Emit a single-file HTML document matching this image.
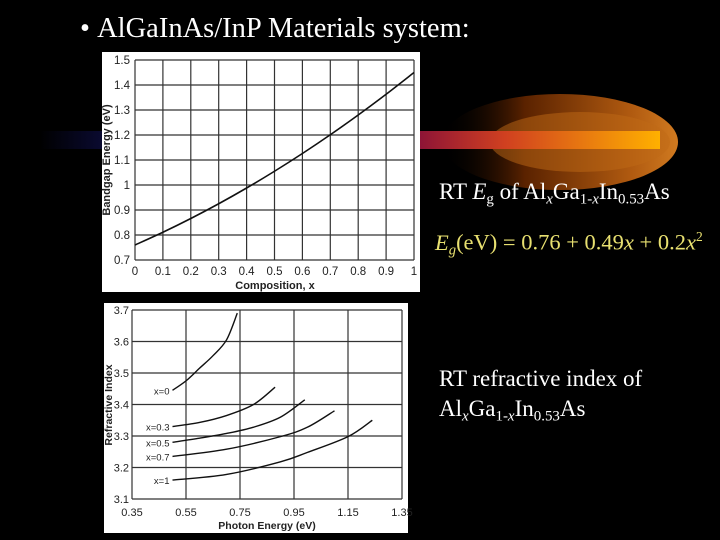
<!DOCTYPE html>
<html><head><meta charset="utf-8">
<style>
body{margin:0;width:720px;height:540px;background:#000;overflow:hidden;position:relative;font-family:"Liberation Serif",serif;}
.t{position:absolute;color:#fff;white-space:nowrap;}
sub{font-size:65%;vertical-align:-0.3em;line-height:0}
</style></head><body>
<svg width="720" height="540" style="position:absolute;left:0;top:0">
<defs>
<linearGradient id="bar" x1="0" x2="1"><stop offset="0" stop-color="#000"/><stop offset="0.1" stop-color="#0a0a30"/><stop offset="0.55" stop-color="#700040"/><stop offset="0.75" stop-color="#d04020"/><stop offset="1" stop-color="#ffb000"/></linearGradient>
<linearGradient id="glow" x1="0" x2="1"><stop offset="0" stop-color="#000" stop-opacity="0"/><stop offset="0.35" stop-color="#5a2200"/><stop offset="0.8" stop-color="#b05a10"/><stop offset="1" stop-color="#d07a20"/></linearGradient>
</defs>
<ellipse cx="560" cy="142" rx="118" ry="48" fill="url(#glow)"/>
<ellipse cx="580" cy="142" rx="90" ry="30" fill="#c06a15" opacity="0.5"/>
<rect x="40" y="131" width="620" height="18" fill="url(#bar)"/>
</svg>
<div class="t" style="left:80px;top:13px;font-size:28.5px;">•&nbsp;AlGaInAs/InP Materials system:</div>
<div class="t" style="left:439px;top:179px;font-size:23px;">RT <i>E</i><sub>g</sub> of Al<sub><i>x</i></sub>Ga<sub>1-<i>x</i></sub>In<sub>0.53</sub>As</div>
<div class="t" style="left:435px;top:229px;font-size:22.5px;color:#e8e070;"><i>E<sub>g</sub></i>(eV) = 0.76 + 0.49<i>x</i> + 0.2<i>x</i><sup style="font-size:60%">2</sup></div>
<div class="t" style="left:439px;top:364px;font-size:23px;line-height:30px;">RT refractive index of<br>Al<sub><i>x</i></sub>Ga<sub>1-<i>x</i></sub>In<sub>0.53</sub>As</div>

<svg id="c1" width="720" height="540" style="position:absolute;left:0;top:0;font-family:'Liberation Sans',sans-serif"></svg>
<script>
const bgX=[0,0.1,0.2,0.3,0.4,0.5,0.6,0.7,0.8,0.9,1];
const bgY=[0.76,0.811,0.866,0.925,0.988,1.055,1.126,1.201,1.28,1.363,1.45];
const bgXTicks=["0","0.1","0.2","0.3","0.4","0.5","0.6","0.7","0.8","0.9","1"];
const bgYTicks=["0.7","0.8","0.9","1","1.1","1.2","1.3","1.4","1.5"];
const riE=[0.35,0.55,0.75,0.95,1.15,1.35];
const riYTicks=[3.1,3.2,3.3,3.4,3.5,3.6,3.7];
const riLabels=["x=0","x=0.3","x=0.5","x=0.7","x=1"];
const riE0=[0.50,0.55,0.60,0.65,0.70,0.74];
const riN0=[3.445,3.475,3.515,3.555,3.605,3.69];
const riE3=[0.50,0.60,0.70,0.80,0.88];
const riN3=[3.33,3.343,3.365,3.40,3.455];
const riE5=[0.50,0.60,0.70,0.80,0.90,0.99];
const riN5=[3.28,3.293,3.308,3.328,3.36,3.415];
const riE7=[0.50,0.70,0.90,1.00,1.10];
const riN7=[3.235,3.258,3.298,3.328,3.38];
const riE10=[0.50,0.70,0.90,1.00,1.15,1.24];
const riN10=[3.16,3.178,3.218,3.248,3.298,3.35];

const S=document.getElementById('c1'),NS='http://www.w3.org/2000/svg';
function mk(t,a,txt){const e=document.createElementNS(NS,t);for(const k in a)e.setAttribute(k,a[k]);if(txt!=null)e.textContent=txt;S.appendChild(e);return e;}
function smooth(pts){let d='M'+pts[0][0]+','+pts[0][1];for(let i=0;i<pts.length-1;i++){const p0=pts[Math.max(i-1,0)],p1=pts[i],p2=pts[i+1],p3=pts[Math.min(i+2,pts.length-1)];
 d+=' C'+(p1[0]+(p2[0]-p0[0])/6)+','+(p1[1]+(p2[1]-p0[1])/6)+' '+(p2[0]-(p3[0]-p1[0])/6)+','+(p2[1]-(p3[1]-p1[1])/6)+' '+p2[0]+','+p2[1];}return d;}
// chart 1
const bg=mk('rect',{x:102,y:52,width:318,height:240,fill:'#fff'});


const x1=v=>135+v*279, y1=v=>260-(v-0.7)/0.8*200;
bgXTicks.forEach(t=>{const v=+t;mk('line',{x1:x1(v),x2:x1(v),y1:60,y2:260,stroke:'#333','stroke-width':1.2});
 const l=mk('text',{x:x1(v),y:275,'font-size':11.5,'text-anchor':'middle',fill:'#222'},t);
 
 });
bgYTicks.forEach(t=>{const v=+t;mk('line',{x1:135,x2:414,y1:y1(v),y2:y1(v),stroke:'#333','stroke-width':1.2});
 const l=mk('text',{x:130,y:y1(v)+4,'font-size':11.5,'text-anchor':'end',fill:'#222'},t);
 
 });
const c1=mk('path',{d:smooth(bgX.map((x,i)=>[x1(x),y1(bgY[i])])),fill:'none',stroke:'#111','stroke-width':1.6});


const xt=mk('text',{x:275,y:289,'font-size':11,'font-weight':'bold','text-anchor':'middle',fill:'#222'},'Composition, x');


const yt=mk('text',{x:0,y:0,'font-size':11,'font-weight':'bold','text-anchor':'middle',fill:'#222',transform:'translate(110,160) rotate(-90)'},'Bandgap Energy (eV)');


// chart 2
const bg2=mk('rect',{x:104,y:303,width:304,height:230,fill:'#fff'});


const x2=v=>132+(v-0.35)*270, y2=v=>499-(v-3.1)/0.6*189;
riE.forEach(v=>{mk('line',{x1:x2(v),x2:x2(v),y1:310,y2:499,stroke:'#333','stroke-width':1.2});
 const l=mk('text',{x:x2(v),y:516,'font-size':11,'text-anchor':'middle',fill:'#222'},v.toFixed(2));
 
 });
riYTicks.forEach(v=>{mk('line',{x1:132,x2:402,y1:y2(v),y2:y2(v),stroke:'#333','stroke-width':1.2});
 const l=mk('text',{x:129,y:y2(v)+4,'font-size':11,'text-anchor':'end',fill:'#222'},v.toFixed(1));
 
 });
const series=[[riE0,riN0],[riE3,riN3],[riE5,riN5],[riE7,riN7],[riE10,riN10]];
series.forEach((s,k)=>{const p=mk('path',{d:smooth(s[0].map((e,i)=>[x2(e),y2(s[1][i])])),fill:'none',stroke:'#111','stroke-width':1.4});
 
 
 const l=mk('text',{x:x2(s[0][0])-3,y:y2(s[1][0])+4,'font-size':9.5,'text-anchor':'end',fill:'#222'},riLabels[k]);
 
 });
const xt2=mk('text',{x:267,y:529,'font-size':10.5,'font-weight':'bold','text-anchor':'middle',fill:'#222'},'Photon Energy (eV)');


const yt2=mk('text',{x:0,y:0,'font-size':10.5,'font-weight':'bold','text-anchor':'middle',fill:'#222',transform:'translate(112,405) rotate(-90)'},'Refractive Index');


</script>
</body></html>
